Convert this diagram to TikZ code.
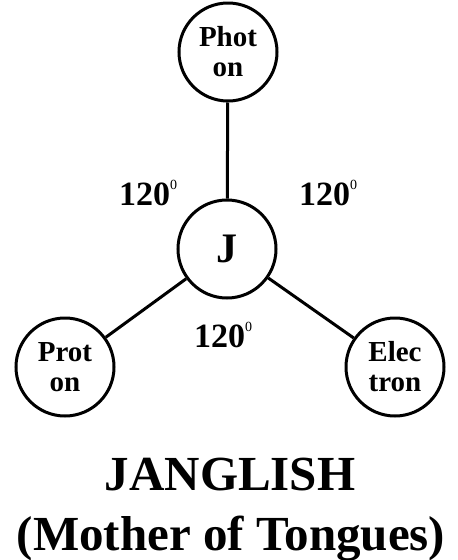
\documentclass[tikz,border=0pt]{standalone}
\usepackage{fontspec}
\setmainfont{Liberation Serif}
\newcommand{\degsup}{\raisebox{16pt}{\mdseries\fontsize{14}{14}\selectfont 0}}
\begin{document}
\begin{tikzpicture}[x=1pt,y=-1pt,
  ball/.style={circle,draw=black,line width=3pt,minimum size=98pt,inner sep=0pt,align=center,font=\bfseries\fontsize{29}{30}\selectfont},
  link/.style={line width=3pt},
  ang/.style={anchor=base west,inner sep=0pt,font=\bfseries\fontsize{34}{36}\selectfont},
  title/.style={anchor=base,inner sep=0pt,font=\bfseries\fontsize{49}{52}\selectfont}]
\useasboundingbox (0,0) rectangle (458,560);
\node[ball] (ph) at (228,52) {Phot\\on};
\node[ball,font=\bfseries\fontsize{42}{44}\selectfont] (j) at (227,249) {J};
\node[ball] (pr) at (65,367) {Prot\\on};
\node[ball] (el) at (395,367) {Elec\\tron};
\draw[link] (j) -- (ph);
\draw[link] (j) -- (pr);
\draw[link] (j) -- (el);
\node[ang] (a1) at (119,205) {120\degsup};
\node[ang] (a2) at (299,205) {120\degsup};
\node[ang] (a3) at (194,347) {120\degsup};
\node[title] (t1) at (230,490) {JANGLISH};
\node[title] (t2) at (231,550) {(Mother of Tongues)};
\end{tikzpicture}
\end{document}
